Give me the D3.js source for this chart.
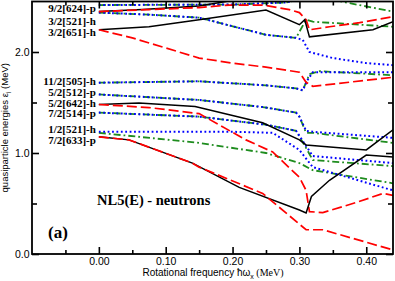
<!DOCTYPE html>
<html>
<head>
<meta charset="utf-8">
<script src="https://cdn.jsdelivr.net/npm/d3@7"></script>
<style>
  body { margin: 0; background: #fff; }
</style>
</head>
<body>
<svg id="chart" width="395" height="281"></svg>
<script>
// routhians, each point is [hbar*omega (MeV), quasiparticle energy (MeV)]
const r624Black = [[0, 2.40], [0.065, 2.42], [0.15, 2.455], [0.19, 2.50], [0.20, 2.52]];
const r624Red = [[0, 2.40], [0.075, 2.42], [0.15, 2.44], [0.195, 2.465], [0.245, 2.465], [0.285, 2.42], [0.30, 2.39], [0.31, 2.32], [0.315, 2.22], [0.345, 2.25], [0.39, 2.29], [0.44, 2.35]];
const r651Black = [[0, 2.22], [0.075, 2.25], [0.15, 2.32], [0.25, 2.415], [0.30, 2.27], [0.308, 2.32], [0.315, 2.15], [0.41, 2.22], [0.44, 2.30]];
const r651Red = [[0, 2.22], [0.05, 2.14], [0.10, 2.04], [0.15, 1.94], [0.20, 1.89], [0.25, 1.85], [0.30, 1.80], [0.31, 1.70], [0.32, 1.66], [0.44, 1.75]];
const rTopGreen = [[0, 2.465], [0.2, 2.47], [0.28, 2.49], [0.30, 2.52], [0.35, 2.52], [0.37, 2.49], [0.44, 2.40]];
const rTopBlue = [[0, 2.465], [0.2, 2.47], [0.28, 2.49], [0.30, 2.52]];
const r521hGreen = [[0, 2.39], [0.075, 2.37], [0.15, 2.34], [0.25, 2.17], [0.295, 2.14], [0.31, 2.32], [0.32, 2.30], [0.44, 2.25]];
const r521hBlue = [[0, 2.39], [0.075, 2.37], [0.15, 2.34], [0.25, 2.17], [0.295, 2.14], [0.305, 2.12], [0.315, 2.00], [0.35, 1.94], [0.40, 1.89], [0.44, 1.87]];
const r505Green = [[0, 1.696], [0.15, 1.71], [0.25, 1.67], [0.295, 1.64], [0.305, 1.62], [0.315, 1.78], [0.33, 1.81], [0.44, 1.77]];
const r505Blue = [[0, 1.696], [0.15, 1.71], [0.25, 1.67], [0.295, 1.64], [0.305, 1.62], [0.312, 1.72], [0.32, 1.80], [0.44, 1.80]];
const r512Green = [[0, 1.58], [0.15, 1.525], [0.245, 1.455], [0.295, 1.40], [0.30, 1.36], [0.31, 1.20], [0.32, 1.20], [0.44, 1.10]];
const r512Blue = [[0, 1.58], [0.15, 1.525], [0.245, 1.455], [0.295, 1.40], [0.30, 1.36], [0.31, 1.22], [0.32, 1.21], [0.44, 1.15]];
const r642Black = [[0, 1.48], [0.06, 1.495], [0.144, 1.46], [0.245, 1.30], [0.30, 1.13], [0.31, 1.08], [0.40, 1.03], [0.44, 1.23]];
const r642Red = [[0, 1.48], [0.075, 1.45], [0.15, 1.39], [0.22, 1.13], [0.26, 1.01], [0.30, 0.76], [0.31, 0.63], [0.315, 0.42], [0.335, 0.41], [0.385, 0.51], [0.425, 0.60], [0.44, 0.58]];
const r514Green = [[0, 1.40], [0.15, 1.36], [0.25, 1.28], [0.295, 1.22], [0.31, 1.05], [0.32, 0.93], [0.44, 0.87]];
const r514Blue = [[0, 1.40], [0.15, 1.36], [0.25, 1.28], [0.295, 1.22], [0.31, 1.07], [0.32, 0.97], [0.44, 0.90]];
const r521pBlue = [[0, 1.21], [0.2, 1.21], [0.26, 1.20], [0.30, 1.03], [0.32, 0.86], [0.44, 0.63]];
const r521pGreen = [[0, 1.20], [0.15, 1.10], [0.25, 1.00], [0.30, 0.90], [0.32, 0.83], [0.44, 0.70]];
const r633Black = [[0, 1.16], [0.045, 1.13], [0.14, 0.90], [0.21, 0.66], [0.30, 0.436], [0.31, 0.406], [0.318, 0.57], [0.345, 0.73], [0.40, 0.98], [0.44, 0.96]];
const r633Red = [[0, 1.16], [0.045, 1.13], [0.14, 0.90], [0.15, 0.86], [0.245, 0.60], [0.31, 0.24], [0.335, 0.24], [0.44, 0.04]];

// orbital labels and the energy they sit at
const orbitalLabels = ["9/2[624]-p", "3/2[521]-h", "3/2[651]-h", "11/2[505]-h", "5/2[512]-p", "5/2[642]-h", "7/2[514]-p", "1/2[521]-h", "7/2[633]-p"];
const labelEnergies = [2.435, 2.31, 2.195, 1.715, 1.605, 1.495, 1.39, 1.235, 1.125];

const xTickLabels = ["0.00", "0.10", "0.20", "0.30", "0.40"];
const yTickLabels = ["0.0", "1.0", "2.0"];

const styles = {
  black: { color: "#000", dash: null, width: 1.5 },
  red: { color: "#ff0000", dash: "10,4", width: 1.7 },
  green: { color: "#1e8c1e", dash: "7,3,1.8,3", width: 1.8 },
  blue: { color: "#0000ff", dash: "1.8,2.6", width: 2 }
};

const curves = [
  { data: rTopGreen, style: "green" }, { data: rTopBlue, style: "blue" },
  { data: r521hGreen, style: "green" }, { data: r521hBlue, style: "blue" },
  { data: r505Green, style: "green" }, { data: r505Blue, style: "blue" },
  { data: r512Green, style: "green" }, { data: r512Blue, style: "blue" },
  { data: r514Green, style: "green" }, { data: r514Blue, style: "blue" },
  { data: r521pGreen, style: "green" }, { data: r521pBlue, style: "blue" },
  { data: r624Black, style: "black" }, { data: r624Red, style: "red" },
  { data: r651Black, style: "black" }, { data: r651Red, style: "red" },
  { data: r642Black, style: "black" }, { data: r642Red, style: "red" },
  { data: r633Black, style: "black" }, { data: r633Red, style: "red" }
];

const margin = { top: 1.5, right: 2, bottom: 27, left: 32 };
const width = 395 - margin.left - margin.right;
const height = 281 - margin.top - margin.bottom;

const svg = d3.select("#chart")
  .append("g")
  .attr("transform", "translate(" + margin.left + "," + margin.top + ")");

const x = d3.scaleLinear().domain([-0.1, 0.44]).range([0, width]);
const y = d3.scaleLinear().domain([0, 2.5]).range([height, 0]);

svg.append("clipPath").attr("id", "clip")
  .append("rect").attr("width", width).attr("height", height);

const line = d3.line()
  .x(d => x(d[0]))
  .y(d => y(d[1]));

const plot = svg.append("g").attr("clip-path", "url(#clip)");
plot.selectAll("path")
  .data(curves)
  .enter()
  .append("path")
  .attr("d", d => line(d.data))
  .attr("fill", "none")
  .attr("stroke", d => styles[d.style].color)
  .attr("stroke-width", d => styles[d.style].width)
  .attr("stroke-dasharray", d => styles[d.style].dash);

// ticks on all four sides, pointing inwards
const xMajor = [0, 0.1, 0.2, 0.3, 0.4];
const xMinor = [-0.05, 0.05, 0.15, 0.25, 0.35];
const yMajor = [0, 1, 2];
const yMinor = [0.5, 1.5];

const bottomAxis = d3.axisBottom(x).tickValues(xMajor).tickSize(-7).tickFormat((d, i) => xTickLabels[i]).tickPadding(3.5);
const topAxis = d3.axisTop(x).tickValues(xMajor).tickSize(-7).tickFormat("");
const leftAxis = d3.axisLeft(y).tickValues(yMajor).tickSize(-7).tickFormat((d, i) => yTickLabels[i]).tickPadding(2.5);
const rightAxis = d3.axisRight(y).tickValues(yMajor).tickSize(-7).tickFormat("");

function styleAxis(g) {
  g.select(".domain").remove();
  g.selectAll("line").attr("stroke", "#000").attr("stroke-width", 1.6);
  g.selectAll("text").attr("font-family", "Liberation Sans, Arial, sans-serif").attr("font-size", 10.5).attr("fill", "#000");
}

svg.append("g").attr("transform", "translate(0," + height + ")").call(bottomAxis).call(styleAxis);
svg.append("g").call(topAxis).call(styleAxis);
svg.append("g").call(leftAxis).call(styleAxis);
svg.append("g").attr("transform", "translate(" + width + ",0)").call(rightAxis).call(styleAxis);

svg.append("g").attr("transform", "translate(0," + height + ")").call(d3.axisBottom(x).tickValues(xMinor).tickSize(-4).tickFormat("")).call(styleAxis);
svg.append("g").call(d3.axisTop(x).tickValues(xMinor).tickSize(-4).tickFormat("")).call(styleAxis);
svg.append("g").call(d3.axisLeft(y).tickValues(yMinor).tickSize(-5).tickFormat("")).call(styleAxis);
svg.append("g").attr("transform", "translate(" + width + ",0)").call(d3.axisRight(y).tickValues(yMinor).tickSize(-5).tickFormat("")).call(styleAxis);

// frame
svg.append("rect")
  .attr("width", width).attr("height", height)
  .attr("fill", "none").attr("stroke", "#000").attr("stroke-width", 1.8);

// orbital labels on the left
svg.selectAll(".orb")
  .data(orbitalLabels)
  .enter()
  .append("text")
  .attr("class", "orb")
  .attr("x", x(0) - 3)
  .attr("y", (d, i) => y(labelEnergies[i]))
  .attr("dy", "0.35em")
  .attr("text-anchor", "end")
  .attr("font-family", "Liberation Serif, Times New Roman, serif")
  .attr("font-weight", "bold")
  .attr("font-size", 11)
  .text(d => d);

svg.append("text")
  .attr("x", 65).attr("y", 203)
  .attr("font-family", "Liberation Serif, Times New Roman, serif")
  .attr("font-weight", "bold").attr("font-size", 14.5)
  .text("NL5(E) - neutrons");

svg.append("text")
  .attr("x", 16).attr("y", 236)
  .attr("font-family", "Liberation Serif, Times New Roman, serif")
  .attr("font-weight", "bold").attr("font-size", 17)
  .text("(a)");

// axis titles
const xTitle = svg.append("text")
  .attr("x", 181).attr("y", height + 22)
  .attr("text-anchor", "middle")
  .attr("font-family", "Liberation Sans, Arial, sans-serif")
  .attr("font-size", 10);
xTitle.append("tspan").text("Rotational frequency \u0127\u03c9");
xTitle.append("tspan").attr("font-size", 7).attr("dy", 3).text("x");
xTitle.append("tspan").attr("dy", -3).attr("font-family", "Liberation Serif, Times New Roman, serif").text(" (MeV)");

const yTitle = svg.append("text")
  .attr("transform", "translate(-24," + (y(1.25)) + ") rotate(-90)")
  .attr("text-anchor", "middle")
  .attr("font-family", "Liberation Sans, Arial, sans-serif")
  .attr("font-size", 9.5);
yTitle.append("tspan").text("quasiparticle energies  \u03b5");
yTitle.append("tspan").attr("font-size", 7).attr("dy", 3).text("i");
yTitle.append("tspan").attr("dy", -3).text(" (MeV)");
</script>
</body>
</html>
